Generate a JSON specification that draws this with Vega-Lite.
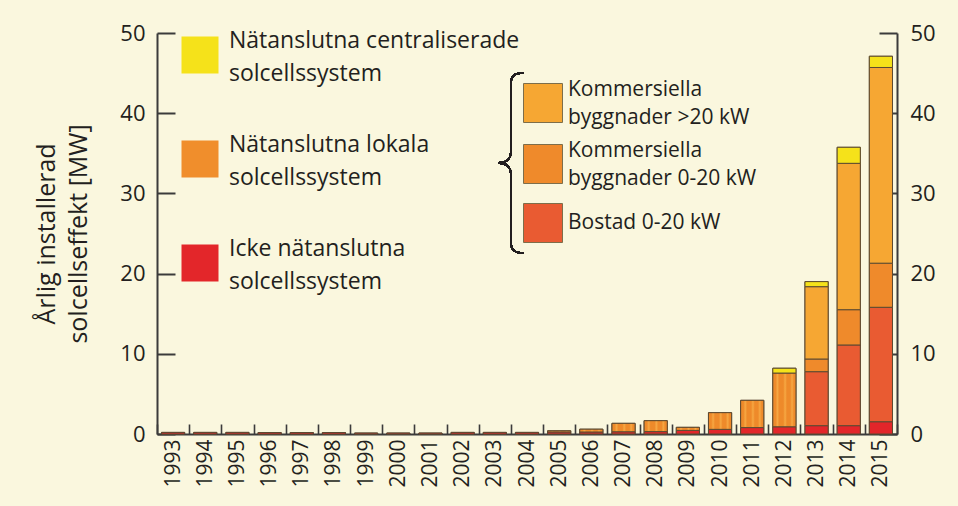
{
  "$schema": "https://vega.github.io/schema/vega-lite/v6.json",
  "width": 740,
  "height": 401,
  "autosize": {"type": "none"},
  "padding": {"left": 157, "top": 33, "right": 61, "bottom": 72},
  "background": "#faf7de",
  "config": {
    "view": {"stroke": null},
    "font": "Open Sans",
    "axis": {
      "domainColor": "#3b3b3b",
      "domainWidth": 2,
      "tickColor": "#3b3b3b",
      "tickWidth": 2,
      "labelColor": "#231f20",
      "labelFont": "Open Sans",
      "titleFont": "Open Sans",
      "titleColor": "#231f20",
      "grid": false,
      "zindex": 0
    },
    "axisX": {
      "title": null,
      "labelAngle": -90,
      "labelAlign": "right",
      "labelBaseline": "middle",
      "tickBand": "extent",
      "tickSize": -10,
      "tickWidth": 1.6,
      "labelPadding": 15,
      "labelFontSize": 21
    }
  },
  "datasets": {
    "kategorier": [
      {"category": "Icke nätanslutna solcellssystem", "ordning": 1},
      {"category": "Bostad 0-20 kW", "ordning": 2},
      {"category": "Kommersiella byggnader 0-20 kW", "ordning": 3},
      {"category": "Kommersiella byggnader >20 kW", "ordning": 4},
      {"category": "Nätanslutna lokala solcellssystem", "ordning": 5},
      {"category": "Nätanslutna centraliserade solcellssystem", "ordning": 6}
    ]
  },
  "data": {
    "values": [
      {"year": "1993", "category": "Icke nätanslutna solcellssystem", "mw": 0.2},
      {"year": "1994", "category": "Icke nätanslutna solcellssystem", "mw": 0.2},
      {"year": "1995", "category": "Icke nätanslutna solcellssystem", "mw": 0.2},
      {"year": "1996", "category": "Icke nätanslutna solcellssystem", "mw": 0.18},
      {"year": "1997", "category": "Icke nätanslutna solcellssystem", "mw": 0.18},
      {"year": "1998", "category": "Icke nätanslutna solcellssystem", "mw": 0.18},
      {"year": "1999", "category": "Icke nätanslutna solcellssystem", "mw": 0.12},
      {"year": "2000", "category": "Icke nätanslutna solcellssystem", "mw": 0.12},
      {"year": "2001", "category": "Icke nätanslutna solcellssystem", "mw": 0.12},
      {"year": "2002", "category": "Icke nätanslutna solcellssystem", "mw": 0.2},
      {"year": "2003", "category": "Icke nätanslutna solcellssystem", "mw": 0.2},
      {"year": "2004", "category": "Icke nätanslutna solcellssystem", "mw": 0.2},
      {"year": "2005", "category": "Icke nätanslutna solcellssystem", "mw": 0.25},
      {"year": "2005", "category": "Nätanslutna lokala solcellssystem", "mw": 0.15},
      {"year": "2006", "category": "Icke nätanslutna solcellssystem", "mw": 0.25},
      {"year": "2006", "category": "Nätanslutna lokala solcellssystem", "mw": 0.35},
      {"year": "2007", "category": "Icke nätanslutna solcellssystem", "mw": 0.28},
      {"year": "2007", "category": "Nätanslutna lokala solcellssystem", "mw": 1.05},
      {"year": "2008", "category": "Icke nätanslutna solcellssystem", "mw": 0.3},
      {"year": "2008", "category": "Nätanslutna lokala solcellssystem", "mw": 1.36},
      {"year": "2009", "category": "Icke nätanslutna solcellssystem", "mw": 0.45},
      {"year": "2009", "category": "Nätanslutna lokala solcellssystem", "mw": 0.38},
      {"year": "2010", "category": "Icke nätanslutna solcellssystem", "mw": 0.58},
      {"year": "2010", "category": "Nätanslutna lokala solcellssystem", "mw": 2.08},
      {"year": "2011", "category": "Icke nätanslutna solcellssystem", "mw": 0.8},
      {"year": "2011", "category": "Nätanslutna lokala solcellssystem", "mw": 3.4},
      {"year": "2012", "category": "Icke nätanslutna solcellssystem", "mw": 0.9},
      {"year": "2012", "category": "Nätanslutna lokala solcellssystem", "mw": 6.7},
      {"year": "2012", "category": "Nätanslutna centraliserade solcellssystem", "mw": 0.6},
      {"year": "2013", "category": "Icke nätanslutna solcellssystem", "mw": 1.04},
      {"year": "2013", "category": "Bostad 0-20 kW", "mw": 6.73},
      {"year": "2013", "category": "Kommersiella byggnader 0-20 kW", "mw": 1.58},
      {"year": "2013", "category": "Kommersiella byggnader >20 kW", "mw": 9.02},
      {"year": "2013", "category": "Nätanslutna centraliserade solcellssystem", "mw": 0.63},
      {"year": "2014", "category": "Icke nätanslutna solcellssystem", "mw": 1.04},
      {"year": "2014", "category": "Bostad 0-20 kW", "mw": 10.06},
      {"year": "2014", "category": "Kommersiella byggnader 0-20 kW", "mw": 4.4},
      {"year": "2014", "category": "Kommersiella byggnader >20 kW", "mw": 18.25},
      {"year": "2014", "category": "Nätanslutna centraliserade solcellssystem", "mw": 2.0},
      {"year": "2015", "category": "Icke nätanslutna solcellssystem", "mw": 1.53},
      {"year": "2015", "category": "Bostad 0-20 kW", "mw": 14.27},
      {"year": "2015", "category": "Kommersiella byggnader 0-20 kW", "mw": 5.5},
      {"year": "2015", "category": "Kommersiella byggnader >20 kW", "mw": 24.4},
      {"year": "2015", "category": "Nätanslutna centraliserade solcellssystem", "mw": 1.4}
    ]
  },
  "transform": [
    {"lookup": "category", "from": {"data": {"name": "kategorier"}, "key": "category", "fields": ["ordning"]}}
  ],
  "layer": [
    {
      "mark": {"type": "bar", "width": {"band": 0.72}, "stroke": "#5c4a32", "strokeWidth": 1},
      "encoding": {
        "x": {
          "field": "year",
          "type": "ordinal",
          "scale": {"paddingInner": 0, "paddingOuter": 0}
        },
        "y": {
          "field": "mw",
          "type": "quantitative",
          "stack": "zero",
          "scale": {"domain": [0, 50], "nice": false},
          "axis": {
            "values": [0, 10, 20, 30, 40, 50],
            "title": ["Årlig installerad", "solcellseffekt [MW]"],
            "titleFontSize": 25,
            "titleFontWeight": "normal",
            "titleLineHeight": 32,
            "titlePadding": 28,
            "tickSize": -18,
            "labelPadding": 30,
            "labelFontSize": 22
          }
        },
        "order": {"field": "ordning", "type": "quantitative", "sort": "ascending"},
        "fill": {
          "field": "category",
          "type": "nominal",
          "scale": {
            "domain": ["Icke nätanslutna solcellssystem", "Bostad 0-20 kW", "Kommersiella byggnader 0-20 kW", "Kommersiella byggnader >20 kW", "Nätanslutna lokala solcellssystem", "Nätanslutna centraliserade solcellssystem"],
            "range": ["#e3262a", "#e95b32", "#ef8a2b", "#f6a733", "#f08e2c", "#f5e21a"]
          },
          "condition": {
            "test": "datum.category === 'Nätanslutna lokala solcellssystem'",
            "value": {
              "gradient": "linear", "x1": 0, "y1": 0, "x2": 1, "y2": 0,
              "stops": [
                {"offset": 0, "color": "#ee8a2a"},
                {"offset": 0.12, "color": "#ee8a2a"},
                {"offset": 0.2, "color": "#f6a843"},
                {"offset": 0.28, "color": "#ee8a2a"},
                {"offset": 0.45, "color": "#ee8a2a"},
                {"offset": 0.53, "color": "#f6a843"},
                {"offset": 0.61, "color": "#ee8a2a"},
                {"offset": 0.75, "color": "#ee8a2a"},
                {"offset": 0.83, "color": "#f6a843"},
                {"offset": 0.91, "color": "#ee8a2a"},
                {"offset": 1, "color": "#ee8a2a"}
              ]
            }
          },
          "legend": {
            "orient": "none",
            "legendX": 24,
            "legendY": 3,
            "title": null,
            "padding": 0,
            "values": ["Nätanslutna centraliserade solcellssystem", "Nätanslutna lokala solcellssystem", "Icke nätanslutna solcellssystem"],
            "symbolType": "square",
            "symbolSize": 1369,
            "symbolStrokeColor": "#7d6e4a",
            "symbolStrokeWidth": 1,
            "labelFont": "Open Sans",
            "labelFontSize": 23,
            "labelColor": "#231f20",
            "labelOffset": 10,
            "labelLimit": 500,
            "rowPadding": 48,
            "labelExpr": "[replace(datum.label, ' solcellssystem', ''), 'solcellssystem']",
            "encode": {
              "labels": {"update": {"lineHeight": {"value": 33}, "dy": {"value": -14}}},
              "symbols": {
                "update": {
                  "fill": [
                    {
                      "test": "datum.value === 'Nätanslutna lokala solcellssystem'",
                      "value": {
                        "gradient": "linear", "x1": 0, "y1": 0, "x2": 1, "y2": 0,
                        "stops": [
                          {"offset": 0, "color": "#ee8a2a"},
                          {"offset": 0.08, "color": "#f6a843"},
                          {"offset": 0.16, "color": "#ee8a2a"},
                          {"offset": 0.3, "color": "#ee8a2a"},
                          {"offset": 0.38, "color": "#f6a843"},
                          {"offset": 0.46, "color": "#ee8a2a"},
                          {"offset": 0.6, "color": "#ee8a2a"},
                          {"offset": 0.68, "color": "#f6a843"},
                          {"offset": 0.76, "color": "#ee8a2a"},
                          {"offset": 0.88, "color": "#ee8a2a"},
                          {"offset": 0.95, "color": "#f6a843"},
                          {"offset": 1, "color": "#ee8a2a"}
                        ]
                      }
                    },
                    {"test": "datum.value === 'Nätanslutna centraliserade solcellssystem'", "value": "#f5e21a"},
                    {"value": "#e3262a"}
                  ],
                  "opacity": {"value": 1}
                }
              }
            }
          }
        }
      }
    },
    {
      "mark": {"type": "bar", "width": {"band": 0.72}, "stroke": "#5c4a32", "strokeWidth": 1},
      "encoding": {
        "x": {"field": "year", "type": "ordinal"},
        "y": {
          "field": "mw",
          "type": "quantitative",
          "stack": "zero",
          "axis": {
            "orient": "right",
            "title": null,
            "values": [0, 10, 20, 30, 40, 50],
            "tickSize": -18,
            "labelPadding": 31,
            "labelFontSize": 22
          }
        },
        "order": {"field": "ordning", "type": "quantitative", "sort": "ascending"},
        "fill": {
          "field": "category",
          "type": "nominal",
          "condition": {
            "test": "datum.category === 'Nätanslutna lokala solcellssystem'",
            "value": {
              "gradient": "linear", "x1": 0, "y1": 0, "x2": 1, "y2": 0,
              "stops": [
                {"offset": 0, "color": "#ee8a2a"},
                {"offset": 0.12, "color": "#ee8a2a"},
                {"offset": 0.2, "color": "#f6a843"},
                {"offset": 0.28, "color": "#ee8a2a"},
                {"offset": 0.45, "color": "#ee8a2a"},
                {"offset": 0.53, "color": "#f6a843"},
                {"offset": 0.61, "color": "#ee8a2a"},
                {"offset": 0.75, "color": "#ee8a2a"},
                {"offset": 0.83, "color": "#f6a843"},
                {"offset": 0.91, "color": "#ee8a2a"},
                {"offset": 1, "color": "#ee8a2a"}
              ]
            }
          },
          "legend": {
            "orient": "none",
            "legendX": 366,
            "legendY": 50,
            "title": null,
            "padding": 0,
            "values": ["Kommersiella byggnader >20 kW", "Kommersiella byggnader 0-20 kW", "Bostad 0-20 kW"],
            "symbolType": "square",
            "symbolSize": 1521,
            "symbolStrokeColor": "#7d6e4a",
            "symbolStrokeWidth": 1,
            "labelFont": "Open Sans",
            "labelFontSize": 21,
            "labelColor": "#231f20",
            "labelOffset": 5,
            "labelLimit": 500,
            "rowPadding": 12,
            "labelExpr": "indexof(datum.label, 'Kommersiella ') === 0 ? ['Kommersiella', replace(datum.label, 'Kommersiella ', '')] : datum.label",
            "encode": {
              "labels": {"update": {"lineHeight": {"value": 28}, "dy": {"signal": "indexof(datum.value, 'Kommersiella') === 0 ? -13 : 0"}}},
              "symbols": {"update": {"opacity": {"value": 1}}}
            }
          }
        }
      }
    },
    {
      "mark": {
        "type": "point",
        "shape": "M0.14,-1 C0.04,-1 0,-0.97 0,-0.88 L0,-0.12 C0,-0.04 -0.06,0 -0.14,0 C-0.06,0 0,0.04 0,0.12 L0,0.88 C0,0.97 0.04,1 0.14,1",
        "size": 32400,
        "filled": false,
        "stroke": "#231f20",
        "strokeWidth": 1.6,
        "opacity": 1
      },
      "encoding": {
        "x": {"datum": "2004", "type": "ordinal", "bandPosition": 0},
        "y": {"datum": 33.8, "type": "quantitative", "axis": null}
      }
    }
  ],
  "resolve": {"axis": {"y": "independent"}, "legend": {"fill": "independent"}}
}
